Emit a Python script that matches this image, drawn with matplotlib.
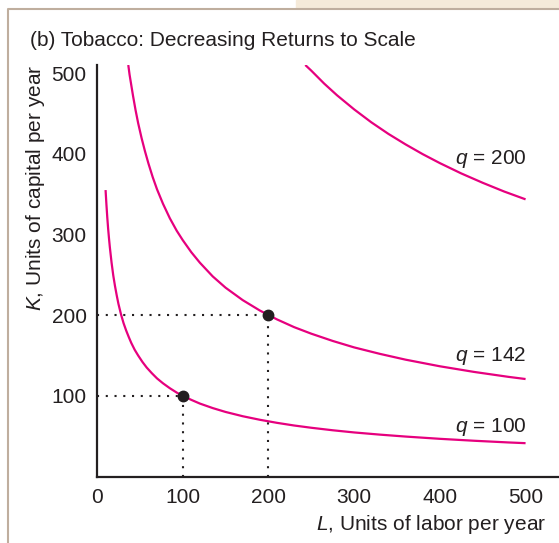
import matplotlib
matplotlib.use('Agg')
import matplotlib.pyplot as plt
from matplotlib.patches import Rectangle
from matplotlib.lines import Line2D

plt.rcParams['font.family'] = ['Liberation Sans', 'DejaVu Sans']
plt.rcParams['mathtext.fontset'] = 'custom'
plt.rcParams['mathtext.it'] = 'Liberation Sans:italic'
plt.rcParams['mathtext.rm'] = 'Liberation Sans'

# Isoquants (L, K)
L_q100 = [10, 11, 12, 13, 14, 15, 17, 19, 21, 23, 25, 28, 31, 34, 37, 40, 44, 48, 53, 58,
          64, 70, 77, 85, 93, 100, 110, 120, 135, 150, 170, 190, 210, 230, 250, 275, 300,
          330, 360, 400, 440, 480, 500]
K_q100 = [355, 337, 321, 307, 295, 284, 265, 249, 236, 224.5, 214, 201, 190, 181, 173, 165.5,
          157, 150, 142, 135, 128, 121.6, 115.5, 109.4, 104, 100, 95, 90.4, 84.8, 80, 74.7,
          70.3, 66.5, 63.2, 60.4, 57.3, 54.6, 51.9, 49.5, 46.7, 44.3, 42.2, 41.3]

L_q142 = [36.5, 38, 40, 42, 45, 48, 52, 56, 60, 65, 70, 77, 85, 93, 100, 110, 120, 135, 150,
          170, 190, 210, 230, 250, 275, 300, 330, 360, 400, 440, 480, 500]
K_q142 = [510, 498, 485, 472, 454, 438, 419.5, 403, 388, 371, 356, 338, 320, 304.6, 293, 278,
          265, 248, 234, 218.6, 205.7, 194.7, 185.1, 177, 168, 160, 152, 144.8, 136.6, 129.6,
          123.5, 120.8]

L_q200 = [243, 250, 265, 280, 300, 320, 340, 360, 380, 400, 425, 450, 475, 500]
K_q200 = [510, 503, 487, 472.5, 455, 439, 424.6, 411.6, 399.5, 388.4, 375.6, 364, 353.2, 343.5]

# Marked input bundles
point_L = [100, 200]
point_K = [100, 200]

curve_labels = ['$q$ = 100', '$q$ = 142', '$q$ = 200']
label_K = [61, 149, 393]

x_ticks = [0, 100, 200, 300, 400, 500]
y_ticks = [100, 200, 300, 400, 500]

magenta = '#e6007e'
dark = '#231f20'
fs = 15

W, H = 559, 543
fig = plt.figure(figsize=(W / 100, H / 100), dpi=100)

# panel frame
fig.patches.append(Rectangle((296 / W, 1 - 8 / H), 1 - 296 / W, 8 / H,
                             transform=fig.transFigure, color='#f5ead9', zorder=0))
fig.lines.append(Line2D([7.5 / W, 7.5 / W, 1], [0, 1 - 8.5 / H, 1 - 8.5 / H],
                        transform=fig.transFigure, color='#bfae9e', lw=1.5))

ax = fig.add_axes([97 / W, 1 - 476.5 / H, 462 / W, 411.5 / H])
ax.set_xlim(0, 539)
ax.set_ylim(0, 510)

ax.plot(L_q100, K_q100, color=magenta, lw=1.6, solid_capstyle='butt')
ax.plot(L_q142, K_q142, color=magenta, lw=1.6, solid_capstyle='butt')
ax.plot(L_q200, K_q200, color=magenta, lw=1.6, solid_capstyle='butt')

# dotted guides to the axes
for l, k in zip(point_L, point_K):
    ax.plot([0, l], [k, k], color=dark, lw=1.5, linestyle=(0, (1, 3.2)))
    ax.plot([l, l], [0, k], color=dark, lw=1.5, linestyle=(0, (1, 3.2)))
ax.plot(point_L, point_K, 'o', color=dark, markersize=7.5, zorder=5)

for txt, k in zip(curve_labels, label_K):
    ax.text(501, k, txt, ha='right', va='center', fontsize=fs, color=dark)

ax.set_xticks(x_ticks)
ax.set_yticks(y_ticks)
ax.tick_params(length=0, labelsize=fs, colors=dark)
ax.tick_params(axis='x', pad=8)
ax.tick_params(axis='y', pad=7.5)
for s in ['top', 'right']:
    ax.spines[s].set_visible(False)
for s in ['left', 'bottom']:
    ax.spines[s].set_linewidth(1.6)
    ax.spines[s].set_color(dark)

fig.text(30 / W, 1 - 41 / H, '(b) Tobacco: Decreasing Returns to Scale',
         fontsize=fs, color=dark, va='center', ha='left')
fig.text(35.5 / W, 1 - 65 / H, '$K$, Units of capital per year', rotation=90,
         fontsize=fs, color=dark, va='top', ha='center')
fig.text(546 / W, 1 - 525 / H, '$L$, Units of labor per year',
         fontsize=fs, color=dark, va='center', ha='right')

fig.savefig('out.png', dpi=100)
